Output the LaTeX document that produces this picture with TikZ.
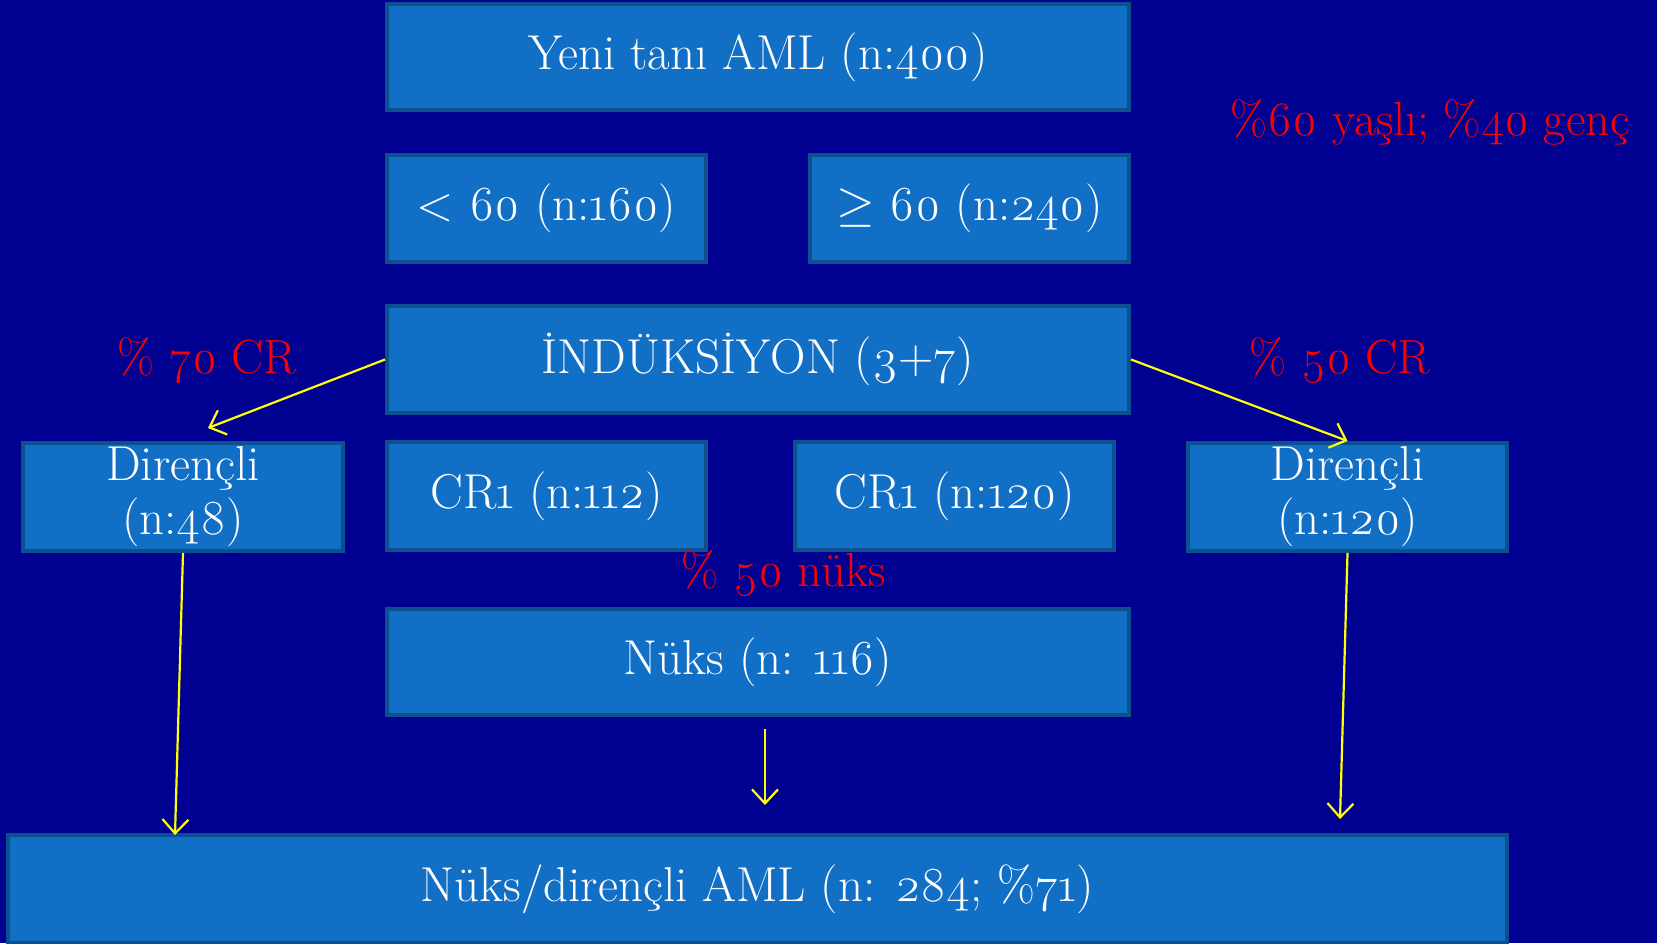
\documentclass[tikz,border=0pt]{standalone}
\usepackage{fontspec}
\setmainfont{Latin Modern Roman}[Numbers=OldStyle]
\usetikzlibrary{arrows.meta,calc}
\definecolor{bgblue}{RGB}{0,0,145}
\definecolor{boxfill}{RGB}{17,112,198}
\definecolor{boxedge}{RGB}{13,80,144}
\definecolor{arrowyellow}{RGB}{255,255,0}
\begin{document}
\begin{tikzpicture}[x=0.5pt,y=-0.5pt,
  box/.style={fill=boxfill,draw=boxedge,line width=2pt,text=white,
    font=\fontsize{24.5}{27}\selectfont,inner sep=0pt,align=center},
  lbl/.style={text=red,font=\fontsize{24}{27}\selectfont,inner sep=0pt},
  conn/.style={draw=arrowyellow,line width=1.1pt,-{Straight Barb[length=7pt,width=13pt]}}]
\fill[bgblue] (0,0) rectangle (1657,943);
\useasboundingbox (0,0) rectangle (1657,943);

\node[box,minimum width=371pt,minimum height=53pt] (top) at (758,57) {Yeni tanı AML (n:400)};
\node[box,minimum width=159.5pt,minimum height=53.5pt] (lt) at (546.5,208.5) {< 60 (n:160)};
\node[box,minimum width=159.5pt,minimum height=53.5pt] (ge) at (969.5,208.5) {$\geq$ 60 (n:240)};
\node[box,minimum width=371pt,minimum height=53.5pt] (ind) at (758,359.5) {İNDÜKSİYON (3+7)};
\node[box,minimum width=160pt,minimum height=54pt] (dirL) at (183,497) {Dirençli\\(n:48)};
\node[box,minimum width=159.5pt,minimum height=54pt] (cra) at (546.5,496) {CR1 (n:112)};
\node[box,minimum width=159.5pt,minimum height=54pt] (crb) at (954.5,496) {CR1 (n:120)};
\node[box,minimum width=159.5pt,minimum height=54pt] (dirR) at (1347.5,497) {Dirençli\\(n:120)};
\node[box,minimum width=371pt,minimum height=53pt] (nuks) at (758,662) {Nüks (n: 116)};
\node[box,minimum width=749.5pt,minimum height=54pt] (bot) at (757.5,889) {Nüks/dirençli AML (n: 284; \%71)};

\node[lbl] (l1) at (1430,122) {\%60 yaşlı; \%40 genç};
\node[lbl] (l2) at (207,361) {\% 70 CR};
\node[lbl] (l3) at (1340,361) {\% 50 CR};
\node[lbl] (l4) at (784,574) {\% 50 nüks};

\coordinate (aL) at (208,428);
\coordinate (bL) at (175,835);
\coordinate (mA) at (765,729);
\coordinate (mB) at (765,805);
\coordinate (bR) at (1340,819);

\draw[conn] (ind.west) -- (aL);
\draw[conn] (ind.east) -- (dirR.north);
\draw[conn] (dirL.south) -- (bL);
\draw[conn] (mA) -- (mB);
\draw[conn] (dirR.south) -- (bR);
\end{tikzpicture}
\end{document}
